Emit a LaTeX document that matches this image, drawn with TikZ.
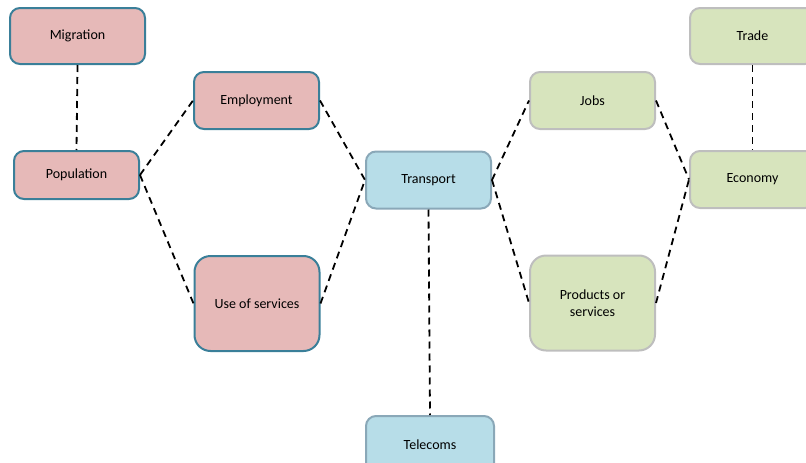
\documentclass[tikz,border=0pt]{standalone}
\usepackage{fontspec}
\setmainfont{Carlito}
\usepackage{tikz}
\usetikzlibrary{calc}

\definecolor{pinkfill}{HTML}{E6B9B8}
\definecolor{pinkline}{HTML}{3A7F99}
\definecolor{bluefill}{HTML}{B7DDE8}
\definecolor{blueline}{HTML}{8AA8B8}
\definecolor{greenfill}{HTML}{D7E4BD}
\definecolor{greenline}{HTML}{BEBEBE}

\tikzset{
  topic/.style={rectangle, rounded corners=10pt, line width=2pt, align=center,
    minimum width=125pt, minimum height=57pt, font=\fontsize{14}{17}\selectfont},
  popbox/.style={topic, draw=pinkline, fill=pinkfill},
  transbox/.style={topic, draw=blueline, fill=bluefill},
  econbox/.style={topic, draw=greenline, fill=greenfill},
  tallbox/.style={minimum height=95pt, rounded corners=16pt},
  link/.style={line width=1.8pt, dash pattern=on 7pt off 5pt}
}

\begin{document}
\begin{tikzpicture}[x=1pt,y=-1pt]
  \useasboundingbox (0,0) rectangle (806,463);

  % people side
  \node[popbox, minimum width=135pt, minimum height=56pt] (migration) at (77.5,36) {Migration};
  \node[popbox, minimum height=48pt] (population) at (76.5,175) {Population};
  \node[popbox] (employment) at (256.5,100.5) {Employment};
  \node[popbox, tallbox] (services) at (257,303.5) {Use of services};

  % links
  \node[transbox] (transport) at (428.5,180) {Transport};
  \node[transbox, minimum width=128pt] (telecoms) at (430,444.5) {Telecoms};

  % economy side
  \node[econbox] (jobs) at (592.5,100.5) {Jobs};
  \node[econbox, tallbox] (products) at (592.5,303) {Products or\\services};
  \node[econbox, minimum height=56pt] (trade) at (752.5,36) {Trade};
  \node[econbox] (economy) at (752.5,179.5) {Economy};

  \draw[link] (migration.south) -- (population.north);
  \draw[link] (population.east) -- (employment.west);
  \draw[link] (population.east) -- (services.west);
  \draw[link] (employment.east) -- (transport.west);
  \draw[link] (services.east) -- (transport.west);
  \draw[link] (transport.east) -- (jobs.west);
  \draw[link] (transport.east) -- (products.west);
  \draw[link] (jobs.east) -- (economy.west);
  \draw[link] (products.east) -- (economy.west);
  \draw[link] (trade.south) -- (economy.north);
  \draw[link] (transport.south) -- (telecoms.north);
\end{tikzpicture}
\end{document}
